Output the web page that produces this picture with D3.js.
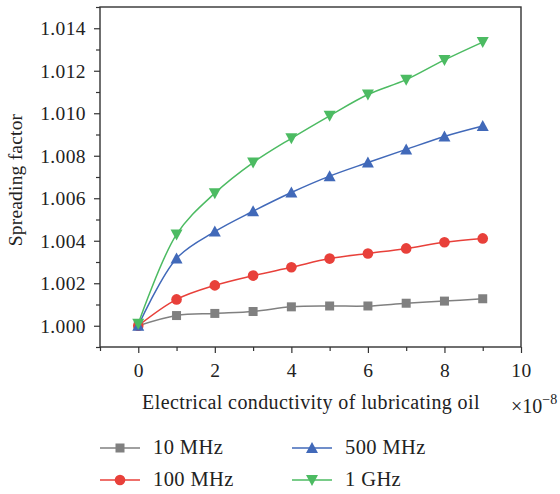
<html>
<script src='https://d3js.org/d3.v7.min.js'></script>
<style>
body { margin: 0; background: #fff; }
text { font-family: 'Liberation Serif', 'DejaVu Serif', serif; fill: #222; }
</style>
<body onload='init()'>
<svg width=560 height=494></svg>
<script>
// data
var xs = [0, 1, 2, 3, 4, 5, 6, 7, 8, 9];
var mhz10  = [1.0000, 1.00048, 1.00058, 1.00067, 1.00089, 1.00093, 1.00093, 1.00106, 1.00116, 1.00127];
var mhz100 = [1.0000, 1.00124, 1.0019, 1.00236, 1.00275, 1.00316, 1.0034, 1.00364, 1.00393, 1.00411];
var mhz500 = [1.0000, 1.00317, 1.00443, 1.00539, 1.00627, 1.00704, 1.00768, 1.0083, 1.00891, 1.0094];
var ghz1   = [1.0001, 1.0043, 1.00624, 1.00768, 1.00882, 1.00988, 1.01088, 1.01158, 1.01251, 1.01335];
var names  = ['10 MHz', '100 MHz', '500 MHz', '1 GHz'];
var xTicks = [0, 2, 4, 6, 8, 10];
var yTicks = [1.000, 1.002, 1.004, 1.006, 1.008, 1.010, 1.012, 1.014];

function init() {
  var svg = d3.select('svg');
  var left = 100, right = 521, top = 7, bottom = 347;

  var x = d3.scaleLinear([-1, 10], [left, right]);
  var y = d3.scaleLinear([0.999, 1.015], [bottom, top]);

  var series = [
    {name: names[0], vals: mhz10,  color: '#808080', shape: 'square'},
    {name: names[1], vals: mhz100, color: '#e8403a', shape: 'circle'},
    {name: names[2], vals: mhz500, color: '#4169b9', shape: 'up'},
    {name: names[3], vals: ghz1,   color: '#4cbb62', shape: 'down'}
  ];

  function marker(g, shape, color) {
    if (shape == 'square') {
      g.append('rect').attr('x', -4.5).attr('y', -4.5).attr('width', 9).attr('height', 9).attr('fill', color);
    } else if (shape == 'circle') {
      g.append('circle').attr('r', 5.3).attr('fill', color);
    } else if (shape == 'up') {
      g.append('path').attr('d', 'M0,-6 L6,5 L-6,5 Z').attr('fill', color);
    } else {
      g.append('path').attr('d', 'M0,6 L6,-5 L-6,-5 Z').attr('fill', color);
    }
  }

  // axes
  var xAxis = d3.axisBottom(x).tickValues(xTicks).tickSize(6).tickPadding(10).tickFormat(d3.format('d'));
  var xMinor = d3.axisBottom(x).tickValues([-1, 1, 3, 5, 7, 9]).tickSize(4).tickFormat('');
  var yAxis = d3.axisLeft(y).tickValues(yTicks).tickSize(6).tickPadding(8).tickFormat(d3.format('.3f'));
  var yMinor = d3.axisLeft(y).tickValues([0.999, 1.001, 1.003, 1.005, 1.007, 1.009, 1.011, 1.013, 1.015]).tickSize(4).tickFormat('');

  [xAxis, xMinor].forEach(function(a) {
    svg.append('g').attr('transform', 'translate(0,' + bottom + ')').call(a);
  });
  [yAxis, yMinor].forEach(function(a) {
    svg.append('g').attr('transform', 'translate(' + left + ',0)').call(a);
  });
  svg.selectAll('.domain').remove();
  svg.selectAll('.tick line').attr('stroke', '#333').attr('stroke-width', 1.2);
  svg.selectAll('.tick text').style('font-size', '19.5px').style('letter-spacing', '0.4px').attr('fill', '#222');

  // frame
  svg.append('rect').attr('x', left).attr('y', top).attr('width', right - left).attr('height', bottom - top)
    .attr('fill', 'none').attr('stroke', '#333').attr('stroke-width', 1.4);

  var line = d3.line().x(function(d, i) { return x(xs[i]); }).y(function(d) { return y(d); })
    .curve(d3.curveCatmullRom.alpha(0.5));

  series.forEach(function(s) {
    svg.append('path').attr('d', line(s.vals)).attr('fill', 'none').attr('stroke', s.color).attr('stroke-width', 1.5);
  });
  series.forEach(function(s) {
    s.vals.forEach(function(v, i) {
      marker(svg.append('g').attr('transform', 'translate(' + x(xs[i]) + ',' + y(v) + ')'), s.shape, s.color);
    });
  });

  // axis titles
  svg.append('text').attr('transform', 'translate(22,' + ((top + bottom) / 2 + 3) + ') rotate(-90)')
    .attr('text-anchor', 'middle').style('font-size', '19.5px').style('letter-spacing', '0.2px').text('Spreading factor');
  svg.append('text').attr('x', 311).attr('y', 409).attr('text-anchor', 'middle')
    .style('font-size', '20px').style('letter-spacing', '0.4px').text('Electrical conductivity of lubricating oil');
  var mult = svg.append('text').attr('x', 511).attr('y', 413).style('font-size', '20px');
  mult.append('tspan').text('\u00d710');
  mult.append('tspan').attr('dy', -9).style('font-size', '14px').text('\u22128');

  // legend
  var leg = [[100, 448], [100, 480], [292, 448], [292, 480]];
  series.forEach(function(s, i) {
    var g = svg.append('g').attr('transform', 'translate(' + leg[i][0] + ',' + leg[i][1] + ')');
    g.append('line').attr('x1', 0).attr('x2', 40).attr('stroke', s.color).attr('stroke-width', 1.5);
    marker(g.append('g').attr('transform', 'translate(20,0)'), s.shape, s.color);
    g.append('text').attr('x', 53).attr('y', 6).style('font-size', '20.5px').style('letter-spacing', '0.4px').text(s.name);
  });
}
</script>
</body>
</html>
